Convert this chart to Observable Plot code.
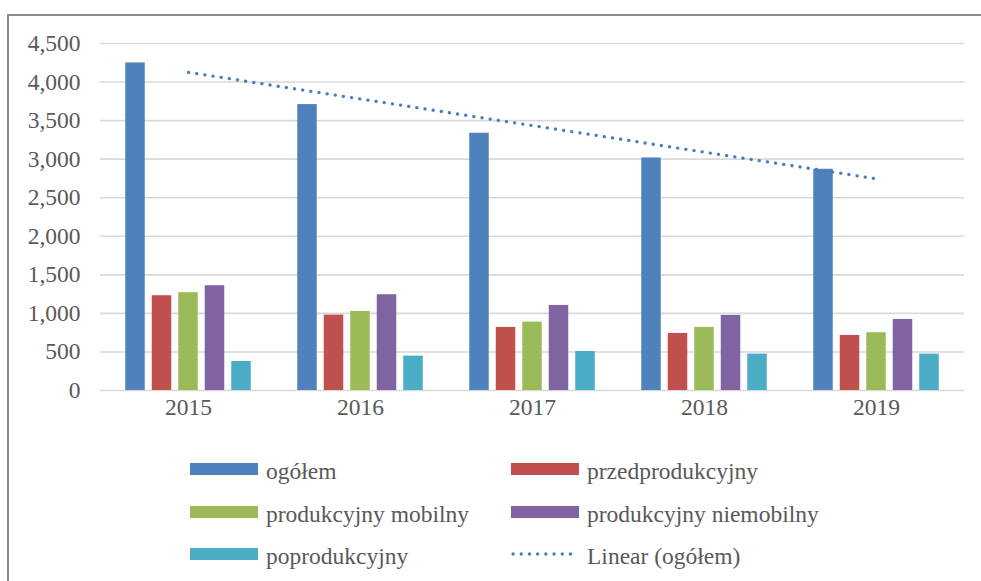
<!DOCTYPE html>
<html>
<head>
<meta charset="utf-8">
<script src="https://cdn.jsdelivr.net/npm/d3@7"></script>
<script src="https://cdn.jsdelivr.net/npm/@observablehq/plot@0.6"></script>
<style>
  body { margin: 0; background: #fff; }
  #wrap { position: relative; width: 981px; height: 581px; overflow: hidden; background: #fff;
          font-family: "Liberation Serif", "Times New Roman", serif; color: #595959; }
  #frame { position: absolute; left: 7px; top: 14px; width: 1100px; height: 700px;
           border: 2px solid #8c8c8c; box-sizing: border-box; }
  #chart { position: absolute; left: 0; top: 0; }
  .item { position: absolute; height: 12px; width: 400px; }
  .sw { position: absolute; left: 0; top: 0; width: 68px; height: 12px; }
  .txt { position: absolute; left: 76px; top: -2.8px; font-size: 23.5px; line-height: 23px; white-space: nowrap; color: #595959; }
</style>
</head>
<body>
<div id="wrap">
  <div id="frame"></div>
  <div id="chart"></div>
  <div id="legend"></div>
</div>
<script>
// ---- data ----
const years = ["2015", "2016", "2017", "2018", "2019"];
const seriesNames = ["ogółem", "przedprodukcyjny", "produkcyjny mobilny", "produkcyjny niemobilny", "poprodukcyjny"];
const seriesColors = ["#4f81bd", "#c0504d", "#9bbb59", "#8064a2", "#4bacc6"];
const ogolem = [4248, 3708, 3336, 3016, 2869];
const przedprodukcyjny = [1229, 978, 818, 740, 714];
const produkcyjnyMobilny = [1268, 1025, 887, 818, 749];
const produkcyjnyNiemobilny = [1359, 1242, 1103, 974, 922];
const poprodukcyjny = [376, 446, 506, 472, 472];
const yTicks = [0, 500, 1000, 1500, 2000, 2500, 3000, 3500, 4000, 4500];
const trendName = "Linear (ogółem)";

const seriesValues = [ogolem, przedprodukcyjny, produkcyjnyMobilny, produkcyjnyNiemobilny, poprodukcyjny];
const rows = [];
seriesNames.forEach((s, i) => years.forEach((y, j) => rows.push({year: y, series: s, idx: i, value: seriesValues[i][j]})));

// Excel linear trendline (least squares) over ogółem
const n = ogolem.length;
const xs = d3.range(1, n + 1);
const mx = d3.mean(xs), my = d3.mean(ogolem);
const slope = d3.sum(xs, (x, k) => (x - mx) * (ogolem[k] - my)) / d3.sum(xs, x => (x - mx) ** 2);
const intercept = my - slope * mx;
const trend = years.map((y, k) => ({year: y, value: intercept + slope * xs[k]}));

// ---- layout ----
const W = 981, H = 440, mL = 100, mR = 17, mT = 43, mB = 50;
const band = (W - mL - mR) / years.length;
const barW = 20.3, step = 26.5;
const inset = (band - barW) / 2;

const barMarks = seriesNames.map((s, i) =>
  Plot.barY(rows.filter(r => r.idx === i), {
    x: "year", y: "value", fill: seriesColors[i],
    insetLeft: inset, insetRight: inset,
    dx: (i - (seriesNames.length - 1) / 2) * step
  })
);

const chart = Plot.plot({
  width: W, height: H,
  marginLeft: mL, marginRight: mR, marginTop: mT, marginBottom: mB,
  style: {fontFamily: '"Liberation Serif", "Times New Roman", serif', fontSize: "23.5px", color: "#595959", background: "transparent", overflow: "visible"},
  x: {type: "band", domain: years, padding: 0, tickSize: 0, tickPadding: 8, label: null},
  y: {domain: [0, 4500], ticks: yTicks, tickSize: 0, tickPadding: 20, tickFormat: d3.format(","), label: null},
  marks: [
    Plot.gridY(yTicks, {stroke: "#d9d9d9", strokeOpacity: 1, strokeWidth: 1.6}),
    ...barMarks,
    Plot.line(trend, {x: "year", y: "value", stroke: "#4a7ebb", strokeWidth: 3.3,
      strokeDasharray: "0.1 8.15", strokeLinecap: "round"})
  ]
});
document.getElementById("chart").appendChild(chart);

// ---- legend ----
const legendItems = seriesNames.map((s, i) => ({label: s, color: seriesColors[i], type: "bar"}))
  .concat([{label: trendName, color: "#4a7ebb", type: "line"}]);
const colX = [190, 511], rowY = [469, 512, 554];
const legend = document.getElementById("legend");
legendItems.forEach((it, k) => {
  const div = document.createElement("div");
  div.className = "item";
  div.style.left = colX[k % 2] + "px";
  div.style.top = (rowY[Math.floor(k / 2)] - 6) + "px";
  if (it.type === "bar") {
    const sw = document.createElement("span");
    sw.className = "sw";
    sw.style.background = it.color;
    div.appendChild(sw);
  } else {
    const svg = d3.create("svg").attr("class", "sw").attr("width", 68).attr("height", 12);
    svg.append("line").attr("x1", 2).attr("x2", 67).attr("y1", 6).attr("y2", 6)
      .attr("stroke", it.color).attr("stroke-width", 3.3).attr("stroke-linecap", "round")
      .attr("stroke-dasharray", "0.1 8.1");
    div.appendChild(svg.node());
  }
  const t = document.createElement("span");
  t.className = "txt";
  t.textContent = it.label;
  div.appendChild(t);
  legend.appendChild(div);
});
</script>
</body>
</html>
